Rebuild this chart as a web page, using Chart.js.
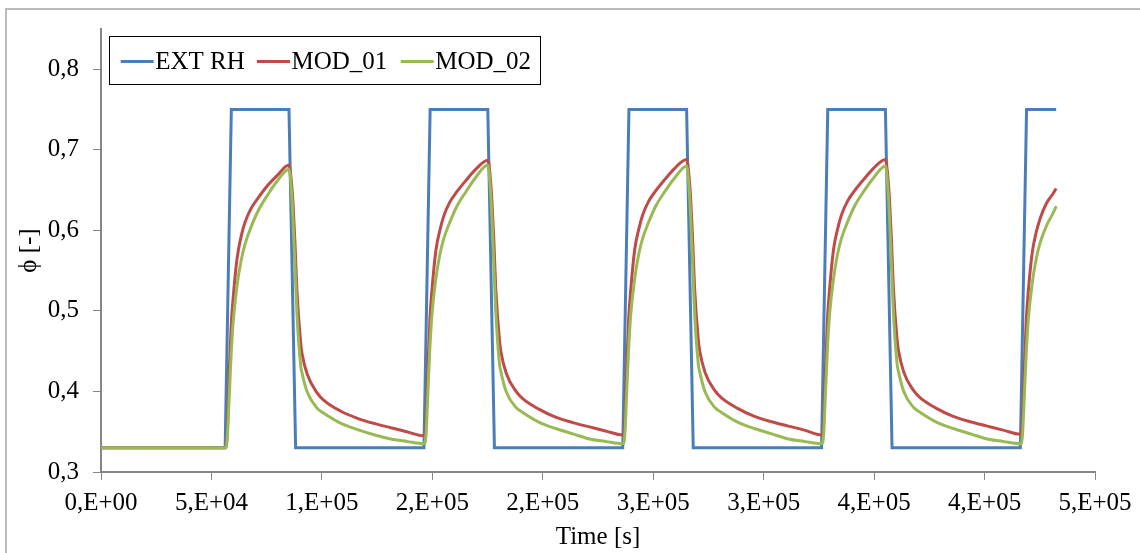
<!DOCTYPE html>
<html>
<head>
<meta charset="utf-8">
<script src="https://cdn.jsdelivr.net/npm/chart.js@4.4.1/dist/chart.umd.min.js"></script>
<style>
html, body { margin: 0; padding: 0; background: #fff; }
#wrap { width: 1140px; height: 553px; }
</style>
</head>
<body>
<div id="wrap"><canvas id="grafico" width="1140" height="553"></canvas></div>
<script>
// valores (tempo em segundos)
const extTime = [0, 56200, 59000, 85100, 88100,
    146200, 149000, 175100, 178100,
    236200, 239000, 265100, 268100,
    326200, 329000, 355100, 358100,
    416200, 419000, 432400];
const extRH = [0.33, 0.33, 0.75, 0.75, 0.33,
    0.33, 0.75, 0.75, 0.33,
    0.33, 0.75, 0.75, 0.33,
    0.33, 0.75, 0.75, 0.33,
    0.33, 0.75, 0.75];

const modTime = [0,
    56200, 57100, 58000, 58900, 59800, 61600, 63400, 65200, 67900, 71100, 75200, 79700, 85100, 86000, 86900, 87800, 88700, 90400, 91000, 93400, 97900, 100900, 108200, 115800, 124000, 131200, 138400,
    146200, 147100, 148000, 148900, 149800, 151600, 153400, 155200, 157900, 161100, 165200, 169700, 175100, 176000, 176900, 177800, 178700, 180400, 181000, 183400, 187900, 190900, 198200, 205800, 214000, 221200, 228400,
    236200, 237100, 238000, 238900, 239800, 241600, 243400, 245200, 247900, 251100, 255200, 259700, 265100, 266000, 266900, 267800, 268700, 270400, 271000, 273400, 277900, 280900, 288200, 295800, 304000, 311200, 318400,
    326200, 327100, 328000, 328900, 329800, 331600, 333400, 335200, 337900, 341100, 345200, 349700, 355100, 356000, 356900, 357800, 358700, 360400, 361000, 363400, 367900, 370900, 378200, 385800, 394000, 401200, 408400,
    416200, 417100, 418000, 418900, 419800, 421600, 423400, 425200, 427900, 431100, 432400];

const mod01 = [0.33,
    0.330, 0.345, 0.420, 0.480, 0.515, 0.565, 0.592, 0.610, 0.627, 0.640, 0.655, 0.668, 0.681, 0.666, 0.635, 0.585, 0.525, 0.460, 0.447, 0.421, 0.398, 0.389, 0.376, 0.367, 0.360, 0.355, 0.350,
    0.345, 0.360, 0.430, 0.490, 0.525, 0.575, 0.600, 0.618, 0.635, 0.648, 0.662, 0.676, 0.687, 0.672, 0.640, 0.590, 0.528, 0.463, 0.450, 0.423, 0.400, 0.391, 0.378, 0.368, 0.361, 0.356, 0.351,
    0.346, 0.361, 0.431, 0.491, 0.526, 0.576, 0.601, 0.619, 0.636, 0.649, 0.663, 0.677, 0.688, 0.673, 0.641, 0.591, 0.529, 0.464, 0.451, 0.424, 0.401, 0.392, 0.379, 0.369, 0.362, 0.357, 0.352,
    0.346, 0.361, 0.431, 0.491, 0.526, 0.576, 0.601, 0.619, 0.636, 0.649, 0.663, 0.677, 0.688, 0.673, 0.641, 0.591, 0.529, 0.464, 0.451, 0.424, 0.401, 0.392, 0.379, 0.369, 0.362, 0.357, 0.352,
    0.347, 0.362, 0.430, 0.490, 0.525, 0.573, 0.598, 0.615, 0.633, 0.646, 0.652];

const mod02 = [0.33,
    0.330, 0.340, 0.390, 0.445, 0.485, 0.532, 0.562, 0.583, 0.604, 0.624, 0.643, 0.661, 0.676, 0.657, 0.615, 0.556, 0.497, 0.432, 0.423, 0.399, 0.379, 0.373, 0.361, 0.353, 0.346, 0.341, 0.338,
    0.335, 0.345, 0.400, 0.455, 0.495, 0.540, 0.570, 0.590, 0.610, 0.630, 0.648, 0.666, 0.681, 0.662, 0.620, 0.560, 0.500, 0.434, 0.425, 0.400, 0.380, 0.374, 0.362, 0.354, 0.347, 0.341, 0.338,
    0.335, 0.345, 0.400, 0.455, 0.495, 0.540, 0.570, 0.590, 0.610, 0.630, 0.648, 0.665, 0.680, 0.661, 0.619, 0.559, 0.499, 0.434, 0.425, 0.400, 0.380, 0.374, 0.362, 0.354, 0.347, 0.341, 0.338,
    0.335, 0.345, 0.400, 0.455, 0.495, 0.540, 0.570, 0.590, 0.610, 0.630, 0.648, 0.665, 0.680, 0.661, 0.619, 0.559, 0.499, 0.434, 0.425, 0.400, 0.380, 0.374, 0.362, 0.354, 0.347, 0.341, 0.338,
    0.335, 0.344, 0.395, 0.450, 0.490, 0.535, 0.565, 0.585, 0.605, 0.622, 0.630];

const serieNomes = ['EXT RH', 'MOD_01', 'MOD_02'];
const serieCores = ['#4A7EBB', '#BE4B48', '#98B954'];

const xTickValues = [0, 50000, 100000, 150000, 200000, 250000, 300000, 350000, 400000, 450000];
const xTickLabels = ['0,E+00', '5,E+04', '1,E+05', '2,E+05', '2,E+05', '3,E+05', '3,E+05', '4,E+05', '4,E+05', '5,E+05'];
const yTickValues = [0.3, 0.4, 0.5, 0.6, 0.7, 0.8];
const yTickLabels = ['0,3', '0,4', '0,5', '0,6', '0,7', '0,8'];

const fonte = { family: "'Liberation Serif', 'Times New Roman', serif", size: 25 };
const corEixo = '#868686';

function pontos(xs, ys) {
    return xs.map((x, i) => ({ x: x, y: ys[i] }));
}

// moldura + legenda dentro da área do gráfico
const extras = {
    id: 'extras',
    afterDraw(chart) {
        const ctx = chart.ctx;
        ctx.save();
        ctx.strokeStyle = '#a6a6a6';
        ctx.lineWidth = 1.5;
        ctx.beginPath();
        ctx.moveTo(6, 560);
        ctx.lineTo(6, 9);
        ctx.lineTo(1150, 9);
        ctx.stroke();

        ctx.strokeStyle = '#000';
        ctx.lineWidth = 1;
        ctx.strokeRect(109.5, 36.5, 431, 48);

        const inicio = [120.7, 257, 400.7];
        ctx.font = '25px ' + fonte.family;
        ctx.fillStyle = '#000';
        ctx.textBaseline = 'alphabetic';
        serieNomes.forEach((nome, i) => {
            ctx.strokeStyle = serieCores[i];
            ctx.lineWidth = 3;
            ctx.beginPath();
            ctx.moveTo(inicio[i], 61.5);
            ctx.lineTo(inicio[i] + 33, 61.5);
            ctx.stroke();
            ctx.fillText(nome, inicio[i] + 34.5, 68.5);
        });
        ctx.restore();
    }
};

const ctx = document.getElementById('grafico').getContext('2d');
new Chart(ctx, {
    type: 'line',
    data: {
        datasets: [
            { label: serieNomes[0], data: pontos(extTime, extRH), borderColor: serieCores[0], borderWidth: 3, pointRadius: 0, tension: 0, order: 3 },
            { label: serieNomes[1], data: pontos(modTime, mod01), borderColor: serieCores[1], borderWidth: 3, pointRadius: 0, cubicInterpolationMode: 'monotone', order: 2 },
            { label: serieNomes[2], data: pontos(modTime, mod02), borderColor: serieCores[2], borderWidth: 3, pointRadius: 0, cubicInterpolationMode: 'monotone', order: 1 }
        ]
    },
    options: {
        responsive: false,
        animation: false,
        devicePixelRatio: 1,
        layout: { padding: { left: 0, top: 26, right: 43, bottom: 0 } },
        plugins: { legend: { display: false }, tooltip: { enabled: false } },
        scales: {
            x: {
                type: 'linear',
                min: 0,
                max: 450000,
                afterBuildTicks: s => { s.ticks = xTickValues.map(v => ({ value: v })); },
                afterFit: s => { s.height = 81; },
                ticks: {
                    callback: (v, i) => xTickLabels[i],
                    font: fonte, color: '#000', padding: 8.4,
                    maxRotation: 0, autoSkip: false
                },
                grid: { drawOnChartArea: false, drawTicks: true, tickLength: 8, color: corEixo, lineWidth: 1 },
                border: { color: corEixo, width: 2 },
                title: { display: true, text: 'Time [s]', font: fonte, color: '#000', padding: { top: 0, bottom: 1 } }
            },
            y: {
                min: 0.3,
                max: 0.85,
                afterBuildTicks: s => { s.ticks = yTickValues.map(v => ({ value: v })); },
                afterFit: s => { s.width = 101; },
                ticks: {
                    callback: (v, i) => yTickLabels[i],
                    font: fonte, color: '#000', padding: 14
                },
                grid: { drawOnChartArea: false, drawTicks: true, tickLength: 8, color: corEixo, lineWidth: 1 },
                border: { color: corEixo, width: 2 },
                title: { display: true, text: 'ϕ [-]', font: fonte, color: '#000', padding: { top: 14, bottom: 0 } }
            }
        }
    },
    plugins: [extras]
});
</script>
</body>
</html>
